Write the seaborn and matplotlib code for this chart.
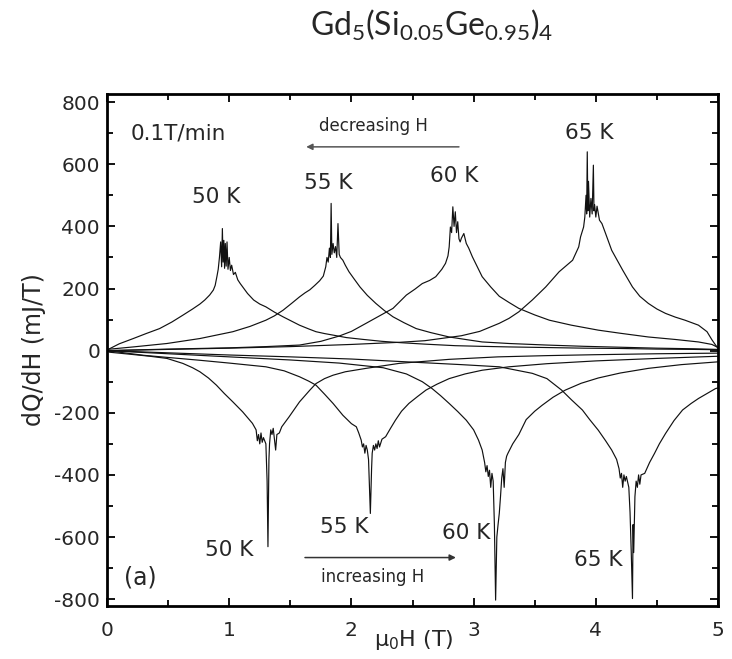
import matplotlib
matplotlib.use("Agg")
import matplotlib.pyplot as plt
import pandas as pd
import seaborn as sns
from matplotlib.ticker import MultipleLocator

# Field sweeps of dQ/dH (mJ/T) vs mu0*H (T) at 0.1 T/min.
# "dec" = decreasing field (positive peaks), "inc" = increasing field (negative dips)
h_dec_50 = [0.00, 0.10, 0.215, 0.32, 0.43, 0.53, 0.62, 0.70, 0.76, 0.80, 0.84, 0.87, 0.885, 0.90, 0.91,
            0.92, 0.93, 0.938, 0.944, 0.95, 0.956, 0.962, 0.968, 0.975, 0.982, 0.99, 1.00, 1.01, 1.02,
            1.035, 1.05, 1.07, 1.09, 1.12, 1.15, 1.20, 1.25, 1.30, 1.37, 1.44, 1.51, 1.575, 1.65, 1.71,
            1.78, 1.85, 1.96, 2.10, 2.25, 2.39, 2.60, 2.85, 3.05, 3.29, 3.60, 3.90, 4.20, 4.50, 4.80, 5.00]
q_dec_50 = [2, 22, 39, 55, 71, 92, 114, 134, 150, 163, 179, 195, 210, 240, 262,
            300, 350, 270, 393, 285, 355, 265, 345, 272, 350, 262, 300, 258, 275,
            245, 252, 228, 216, 200, 184, 163, 150, 141, 124, 109, 95, 82, 70, 61,
            55, 50, 42, 36, 30, 26, 21, 16, 14, 12, 10, 8, 7, 5, 4, 3]

h_dec_55 = [0.00, 0.215, 0.49, 0.76, 1.03, 1.17, 1.30, 1.37, 1.44, 1.51, 1.575, 1.62, 1.66, 1.70, 1.74,
            1.77, 1.79, 1.80, 1.81, 1.82, 1.828, 1.834, 1.84, 1.85, 1.86, 1.87, 1.88, 1.89, 1.90, 1.91,
            1.93, 1.95, 1.98, 2.02, 2.07, 2.13, 2.20, 2.27, 2.34, 2.43, 2.53, 2.65, 2.80, 2.95, 3.07,
            3.29, 3.60, 3.90, 4.20, 4.50, 4.80, 5.00]
q_dec_55 = [4, 12, 23, 39, 61, 78, 98, 112, 130, 152, 173, 186, 196, 210, 225,
            240, 270, 300, 285, 330, 300, 474, 310, 345, 315, 335, 300, 409, 310, 300,
            291, 275, 254, 232, 205, 178, 152, 129, 109, 90, 71, 58, 44, 35, 28,
            23, 18, 14, 11, 8, 6, 4]

h_dec_60 = [0.00, 0.50, 1.00, 1.30, 1.575, 1.75, 1.90, 2.00, 2.12, 2.23, 2.34, 2.45, 2.52, 2.58, 2.64,
            2.69, 2.74, 2.77, 2.79, 2.80, 2.81, 2.82, 2.83, 2.84, 2.85, 2.86, 2.87, 2.88, 2.89, 2.90,
            2.92, 2.94, 2.96, 2.99, 3.03, 3.07, 3.14, 3.21, 3.29, 3.37, 3.50, 3.62, 3.80, 4.02, 4.20,
            4.43, 4.65, 4.84, 4.95, 5.00]
q_dec_60 = [0, 5, 9, 13, 18, 30, 47, 62, 88, 112, 136, 179, 198, 216, 226,
            238, 262, 281, 305, 334, 398, 380, 463, 400, 447, 380, 415, 360, 350, 362,
            377, 345, 330, 302, 270, 238, 205, 175, 155, 136, 115, 98, 82, 66, 56,
            44, 36, 28, 20, 10]

h_dec_65 = [0.00, 1.00, 1.50, 2.00, 2.40, 2.60, 2.90, 3.05, 3.21, 3.29, 3.37, 3.48, 3.59, 3.70, 3.81,
            3.86, 3.875, 3.90, 3.91, 3.92, 3.925, 3.93, 3.935, 3.94, 3.95, 3.96, 3.97, 3.98, 3.985,
            3.99, 4.00, 4.01, 4.03, 4.05, 4.08, 4.13, 4.22, 4.30, 4.36, 4.43, 4.50, 4.57, 4.65, 4.73,
            4.84, 4.91, 4.95, 4.98, 5.00]
q_dec_65 = [0, 8, 13, 20, 27, 32, 48, 62, 88, 104, 125, 163, 205, 254, 291,
            334, 366, 398, 430, 500, 440, 640, 450, 545, 430, 490, 440, 597, 450,
            470, 430, 465, 420, 409, 377, 323, 259, 205, 175, 152, 134, 120, 108, 98,
            82, 61, 35, 18, 8]

h_inc_50 = [0.00, 0.02, 0.20, 0.35, 0.49, 0.62, 0.70, 0.76, 0.83, 0.895, 0.96, 1.03, 1.11, 1.19, 1.22,
            1.23, 1.24, 1.25, 1.26, 1.27, 1.28, 1.30, 1.31, 1.317, 1.325, 1.33, 1.34, 1.35, 1.36, 1.37,
            1.38, 1.39, 1.41, 1.43, 1.49, 1.575, 1.66, 1.71, 1.78, 1.85, 1.95, 2.12, 2.39, 2.80, 3.20,
            3.60, 4.00, 4.50, 5.00]
q_inc_50 = [0, -5, -12, -18, -25, -41, -55, -68, -88, -111, -138, -165, -197, -234, -255,
            -290, -270, -300, -265, -295, -280, -300, -420, -631, -350, -300, -255, -270, -250, -285,
            -320, -270, -265, -245, -213, -165, -127, -106, -90, -79, -68, -57, -41, -28, -20,
            -16, -13, -10, -8]

h_inc_55 = [0.00, 0.30, 0.76, 1.00, 1.30, 1.45, 1.575, 1.65, 1.71, 1.78, 1.85, 1.93, 2.00, 2.04, 2.06,
            2.08, 2.09, 2.10, 2.11, 2.12, 2.13, 2.14, 2.155, 2.165, 2.17, 2.18, 2.19, 2.20, 2.21, 2.22,
            2.23, 2.25, 2.28, 2.32, 2.36, 2.41, 2.47, 2.54, 2.61, 2.70, 2.80, 2.93, 3.07, 3.29, 3.60,
            4.00, 4.50, 5.00]
q_inc_55 = [0, -15, -31, -40, -52, -65, -84, -98, -111, -140, -170, -208, -235, -245, -265,
            -288, -310, -300, -330, -305, -320, -350, -524, -380, -330, -305, -320, -300, -315, -290,
            -310, -285, -277, -250, -224, -195, -170, -148, -127, -108, -90, -75, -63, -52, -42,
            -33, -25, -18]

h_inc_60 = [0.00, 0.50, 1.00, 1.50, 1.90, 2.26, 2.45, 2.58, 2.66, 2.73, 2.80, 2.87, 2.94, 3.00, 3.04,
            3.07, 3.09, 3.10, 3.11, 3.12, 3.13, 3.14, 3.15, 3.16, 3.17, 3.18, 3.19, 3.20, 3.21, 3.22,
            3.23, 3.24, 3.25, 3.26, 3.27, 3.28, 3.32, 3.37, 3.43, 3.50, 3.56, 3.65, 3.75, 3.88, 4.02,
            4.20, 4.43, 4.70, 5.00]
q_inc_60 = [0, -10, -20, -30, -40, -55, -75, -100, -122, -145, -170, -196, -224, -255, -288,
            -320, -360, -390, -370, -405, -385, -440, -395, -420, -560, -803, -600, -560, -524, -470,
            -410, -380, -440, -360, -340, -331, -300, -270, -222, -195, -176, -150, -127, -105, -88,
            -72, -57, -45, -36]

h_inc_65 = [0.00, 0.50, 1.00, 1.50, 2.00, 2.50, 2.90, 3.21, 3.48, 3.60, 3.72, 3.80, 3.89, 3.95, 4.02,
            4.08, 4.13, 4.17, 4.19, 4.20, 4.21, 4.22, 4.23, 4.24, 4.25, 4.27, 4.28, 4.29, 4.30, 4.305,
            4.31, 4.32, 4.33, 4.34, 4.35, 4.36, 4.37, 4.40, 4.44, 4.48, 4.52, 4.57, 4.64, 4.71, 4.78,
            4.84, 4.91, 4.98, 5.00]
q_inc_65 = [0, -7, -14, -20, -27, -37, -45, -52, -73, -90, -127, -158, -191, -222, -256,
            -290, -320, -350, -380, -410, -395, -440, -400, -420, -405, -440, -520, -650, -798, -560,
            -650, -470, -420, -440, -400, -430, -400, -395, -360, -331, -300, -267, -225, -191, -170,
            -154, -138, -122, -120]

temps = ["50 K", "55 K", "60 K", "65 K"]
sweeps = {
    ("dec", "50 K"): (h_dec_50, q_dec_50),
    ("dec", "55 K"): (h_dec_55, q_dec_55),
    ("dec", "60 K"): (h_dec_60, q_dec_60),
    ("dec", "65 K"): (h_dec_65, q_dec_65),
    ("inc", "50 K"): (h_inc_50, q_inc_50),
    ("inc", "55 K"): (h_inc_55, q_inc_55),
    ("inc", "60 K"): (h_inc_60, q_inc_60),
    ("inc", "65 K"): (h_inc_65, q_inc_65),
}

frames = []
for (direction, temp), (h, q) in sweeps.items():
    frames.append(pd.DataFrame({"H": h, "dQdH": q, "curve": f"{direction} {temp}"}))
df = pd.concat(frames, ignore_index=True)

# Temperature label positions (field, dQ/dH)
label_dec_pos = [(0.89, 494), (1.81, 539), (2.84, 562), (3.95, 699)]
label_inc_pos = [(1.00, -642), (1.94, -567), (2.94, -588), (4.02, -674)]

sns.set_style("ticks")
plt.rcParams["font.family"] = ["DejaVu Sans"]
plt.rcParams["axes.unicode_minus"] = False
plt.rcParams["mathtext.fontset"] = "custom"
plt.rcParams["mathtext.rm"] = "Lato"
plt.rcParams["mathtext.it"] = "Lato:italic"

fig = plt.figure(figsize=(7.32, 6.59), dpi=100)
ax = fig.add_axes([0.1462, 0.0804, 0.8347, 0.7769])

sns.lineplot(data=df, x="H", y="dQdH", units="curve", estimator=None, sort=False,
             color="#111111", lw=0.85, ax=ax)

ax.set_xlim(0, 5)
ax.set_ylim(-822, 826)
ax.xaxis.set_major_locator(MultipleLocator(1))
ax.xaxis.set_minor_locator(MultipleLocator(0.5))
ax.yaxis.set_major_locator(MultipleLocator(200))
ax.yaxis.set_minor_locator(MultipleLocator(100))
ax.tick_params(which="both", direction="in", top=True, right=True, width=1.3, color="black")
ax.tick_params(which="major", length=5.5, labelsize=14.5)
ax.tick_params(axis="x", which="major", pad=10.5)
ax.tick_params(axis="y", which="major", pad=5)
ax.tick_params(which="minor", length=4)
for s in ax.spines.values():
    s.set_linewidth(2.0)
    s.set_color("black")

ax.set_xlabel("μ$_0$H (T)", fontsize=16, math_fontfamily="dejavusans")
ax.xaxis.set_label_coords(0.502, -0.043)
ax.set_ylabel("dQ/dH (mJ/T)", fontsize=17)
ax.yaxis.set_label_coords(-0.1, 0.5)

for t, (x, y) in zip(temps, label_dec_pos):
    ax.text(x, y, t, ha="center", va="center", fontsize=15.5)
for t, (x, y) in zip(temps, label_inc_pos):
    ax.text(x, y, t, ha="center", va="center", fontsize=15.5)

ax.text(0.58, 700, "0.1T/min", ha="center", va="center", fontsize=15.5)
ax.text(0.27, -729, "(a)", ha="center", va="center", fontsize=17)

ax.text(2.18, 722, "decreasing H", ha="center", va="center", fontsize=12)
ax.annotate("", xy=(1.63, 656), xytext=(2.88, 656),
            arrowprops=dict(arrowstyle="-|>", color="#555555", lw=1.1,
                            mutation_scale=9, shrinkA=0, shrinkB=0))
ax.text(2.17, -729, "increasing H", ha="center", va="center", fontsize=12)
ax.annotate("", xy=(2.855, -666), xytext=(1.62, -666),
            arrowprops=dict(arrowstyle="-|>", color="#333333", lw=1.1,
                            mutation_scale=9, shrinkA=0, shrinkB=0))

fig.text(0.590, 0.945, r"Gd$_5$(Si$_{0.05}$Ge$_{0.95}$)$_4$", ha="center", va="baseline",
         fontsize=23, family="Lato", math_fontfamily="custom")

fig.savefig("out.png", dpi=100, facecolor="white")
